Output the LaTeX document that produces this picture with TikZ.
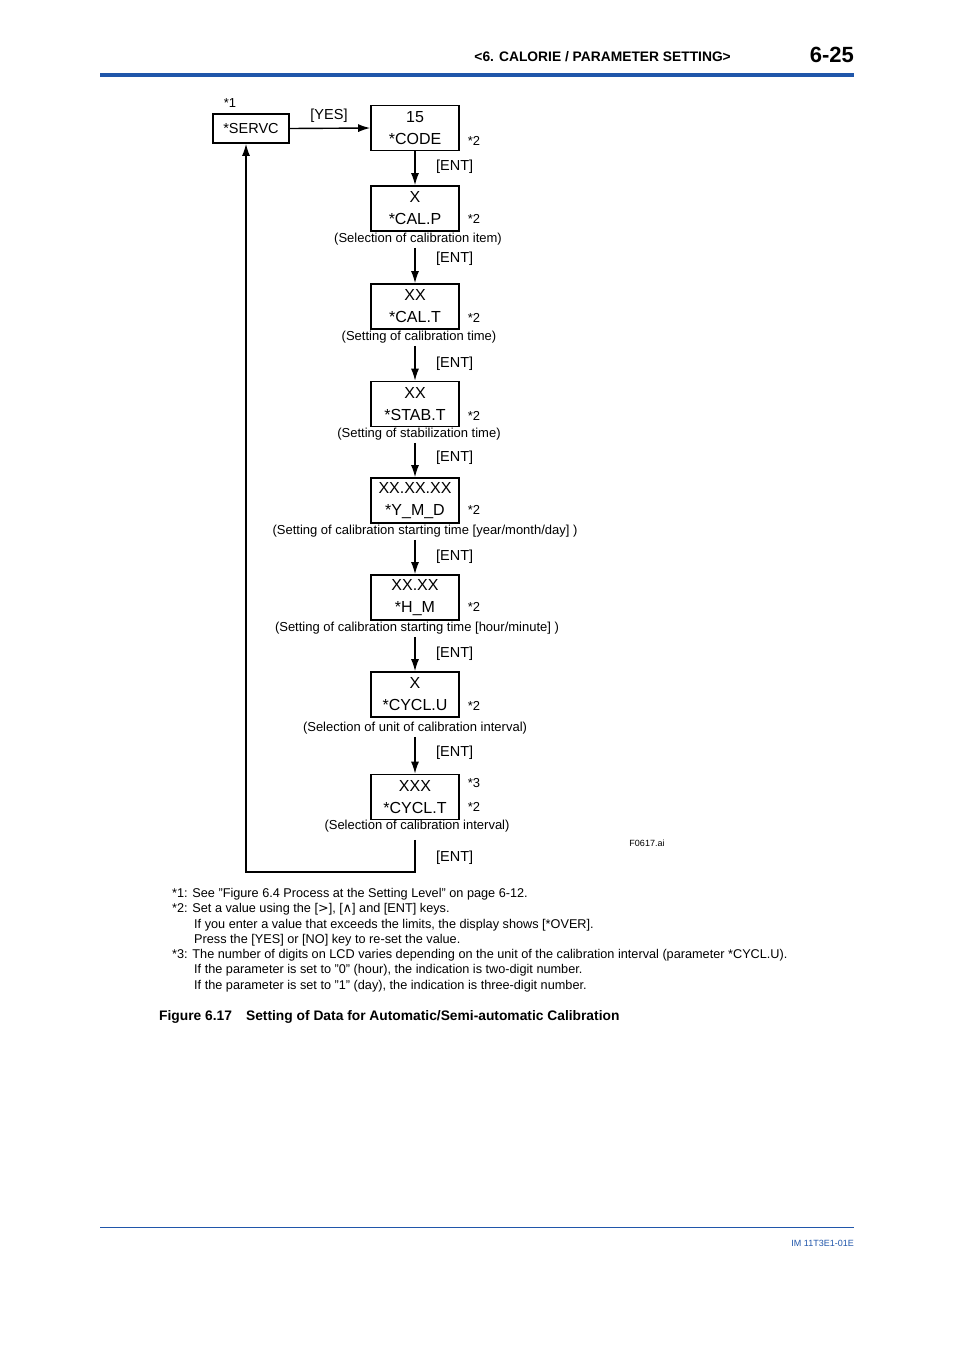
\documentclass[tikz,border=0pt]{standalone}
\usepackage{fontspec}
\setmainfont{Liberation Sans}
\newfontfamily\symfont{DejaVu Sans}
\usetikzlibrary{calc,arrows.meta}
\definecolor{hdrblue}{RGB}{32,86,170}

\begin{document}
\begin{tikzpicture}[x=1pt,y=-1pt,
        lcd/.style={draw,line width=1.6pt,minimum width=88pt,minimum height=45pt,inner sep=0pt,align=center,font=\fontsize{16}{22}\selectfont},
        keylbl/.style={anchor=west,inner sep=0pt,font=\fontsize{14.5}{16}\selectfont},
        remark/.style={inner sep=0pt,font=\fontsize{13}{14}\selectfont},
        fnref/.style={inner sep=0pt,font=\fontsize{13}{15}\selectfont},
        wire/.style={line width=1.4pt},
        tip/.style={-{Latex[length=12pt,width=8pt]}}]
        \useasboundingbox (0,0) rectangle (954,1350);

        % 1. Page header
        \fill[hdrblue] (100,73) rectangle (854,77);
        \node (hdr) at (731,57) [anchor=east,inner sep=0pt,font=\bfseries\fontsize{13.8}{15}\selectfont] {<6. CALORIE / PARAMETER SETTING>};
        \node (pageno) at (854,55) [anchor=east,inner sep=0pt,font=\bfseries\fontsize{22}{24}\selectfont] {6-25};

        % 2. Service entry and code
        \node (servc) at (251,128.5) [lcd,minimum width=76pt,minimum height=29pt,font=\fontsize{14.5}{16}\selectfont] {*SERVC};
        \node (servcref) at (230,103) [fnref] {*1};
        \node (code) at (415,128) [lcd] {15\\*CODE};
        \node (coderef) at (474,141) [fnref] {*2};
        \draw[wire,tip] (servc.east) -- (code.west);
        \node (yes) at (329,116) [keylbl,anchor=center] {[YES]};

        % 3. Parameter boxes, top to bottom
        \node (calp) at (415,208.5) [lcd] {X\\*CAL.P};
        \node (calpref) at (474,219) [fnref] {*2};
        \node (calpnote) at (418,239.5) [remark] {(Selection of calibration item)};

        \node (calt) at (415,306.5) [lcd] {XX\\*CAL.T};
        \node (caltref) at (474,318) [fnref] {*2};
        \node (caltnote) at (419,337.5) [remark] {(Setting of calibration time)};

        \node (stabt) at (415,404) [lcd] {XX\\*STAB.T};
        \node (stabtref) at (474,416) [fnref] {*2};
        \node (stabtnote) at (419,434.5) [remark] {(Setting of stabilization time)};

        \node (ymd) at (415,500.5) [lcd] {XX.XX.XX\\*Y\_M\_D};
        \node (ymdref) at (474,510) [fnref] {*2};
        \node (ymdnote) at (425,531.5) [remark] {(Setting of calibration starting time [year/month/day] )};

        \node (hm) at (415,597.5) [lcd] {XX.XX\\*H\_M};
        \node (hmref) at (474,607) [fnref] {*2};
        \node (hmnote) at (417,628.5) [remark] {(Setting of calibration starting time [hour/minute] )};

        \node (cyclu) at (415,694.5) [lcd] {X\\*CYCL.U};
        \node (cycluref) at (474,706) [fnref] {*2};
        \node (cyclunote) at (415,728.5) [remark] {(Selection of unit of calibration interval)};

        \node (cyclt) at (415,797) [lcd] {XXX\\*CYCL.T};
        \node (cycltrefa) at (474,783) [fnref] {*3};
        \node (cycltrefb) at (474,807) [fnref] {*2};
        \node (cycltnote) at (417,826.5) [remark] {(Selection of calibration interval)};

        % 4. [ENT] steps
        \draw[wire,tip] (code.south) -- (calp.north);
        \draw[wire,tip] ($(calt.north |- calpnote.south)+(0,2)$) -- (calt.north);
        \draw[wire,tip] ($(stabt.north |- caltnote.south)+(0,2)$) -- (stabt.north);
        \draw[wire,tip] ($(ymd.north |- stabtnote.south)+(0,2)$) -- (ymd.north);
        \draw[wire,tip] ($(hm.north |- ymdnote.south)+(0,2)$) -- (hm.north);
        \draw[wire,tip] ($(cyclu.north |- hmnote.south)+(0,2)$) -- (cyclu.north);
        \draw[wire,tip] ($(cyclt.north |- cyclunote.south)+(0,2)$) -- (cyclt.north);

        \node (ent1) at (436,167) [keylbl] {[ENT]};
        \node (ent2) at (436,259) [keylbl] {[ENT]};
        \node (ent3) at (436,364) [keylbl] {[ENT]};
        \node (ent4) at (436,458) [keylbl] {[ENT]};
        \node (ent5) at (436,557) [keylbl] {[ENT]};
        \node (ent6) at (436,654) [keylbl] {[ENT]};
        \node (ent7) at (436,753) [keylbl] {[ENT]};
        \node (ent8) at (436,858) [keylbl] {[ENT]};

        % 5. Return to *SERVC
        \coordinate (back) at (246,872);
        \draw[wire,tip] ($(cyclt.south |- cycltnote.south)+(0,7)$) -- (cyclt.south |- back) -- (back) -- (back |- servc.south);

        \node (fileid) at (647,843) [inner sep=0pt,font=\fontsize{9}{10}\selectfont] {F0617.ai};

        % 6. Notes and caption
        \node (notes) at (172,888) [anchor=north west,inner sep=0pt,align=left,font=\fontsize{12.7}{15.3}\selectfont] {%
            *1: See "Figure 6.4 Process at the Setting Level" on page 6-12.\\
            *2: Set a value using the [{\symfont >}], [{\symfont ∧}] and [ENT] keys.\\
            \hspace*{22pt}If you enter a value that exceeds the limits, the display shows [*OVER].\\
            \hspace*{22pt}Press the [YES] or [NO] key to re-set the value.\\
            *3: The number of digits on LCD varies depending on the unit of the calibration interval (parameter *CYCL.U).\\
            \hspace*{22pt}If the parameter is set to "0" (hour), the indication is two-digit number.\\
            \hspace*{22pt}If the parameter is set to "1" (day), the indication is three-digit number.};
        \node (caption) at (159,1017) [anchor=west,inner sep=0pt,font=\bfseries\fontsize{13.8}{15}\selectfont] {Figure 6.17\hspace{14pt}Setting of Data for Automatic/Semi-automatic Calibration};

        % 7. Page footer
        \draw[hdrblue,line width=0.8pt] (100,1227) -- (854,1227);
        \node (docid) at (854,1243) [anchor=east,inner sep=0pt,text=hdrblue,font=\fontsize{9}{10}\selectfont] {IM 11T3E1-01E};
    \end{tikzpicture}
\end{document}
